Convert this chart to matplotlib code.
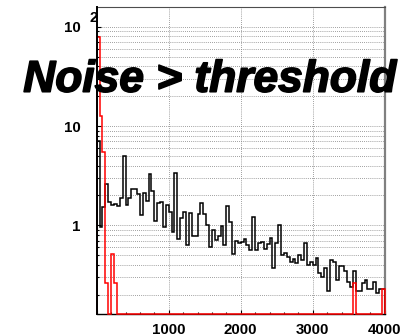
"""Noise histogram: all hits vs hits above threshold (log scale)."""

import numpy as np
import matplotlib.pyplot as plt
import matplotlib.patheffects as pe
from matplotlib.ticker import LogLocator, NullFormatter

plt.rcParams["font.family"] = ["Liberation Sans", "DejaVu Sans"]

# 100 bins of 40 from 0 to 4000
edges = np.arange(0, 4001, 40)

black_counts = [
    7.0, 0.97, 1.52, 2.6, 1.7, 1.6, 1.65, 1.55, 1.9, 5.0,
    1.6, 1.9, 2.3, 2.3, 2.07, 1.27, 2.1, 1.77, 3.27, 2.23,
    1.1, 1.68, 1.7, 0.97, 1.6, 1.37, 0.85, 3.35, 0.73, 1.19,
    1.35, 0.63, 1.33, 0.79, 0.79, 1.3, 1.68, 1.3, 1.0, 0.6,
    0.9, 0.71, 0.79, 0.98, 0.63, 1.55, 1.07, 0.52, 0.69, 0.67,
    0.68, 0.73, 0.63, 0.56, 1.22, 0.56, 0.66, 0.68, 0.58, 0.65,
    0.74, 0.37, 0.66, 1.0, 0.5, 0.53, 0.48, 0.43, 0.46, 0.42,
    0.5, 0.45, 0.67, 0.4, 0.43, 0.4, 0.47, 0.33, 0.3, 0.37,
    0.22, 0.45, 0.43, 0.28, 0.39, 0.39, 0.35, 0.27, 0.24, 0.35,
    0.22, 0.22, 0.26, 0.28, 0.23, 0.23, 0.27, 0.21, 0.23, 0.23,
]
red_counts = [79, 12.6, 5.5, 0.26, 0, 0.52, 0.26] + [0] * 82 + [0.26] + [0] * 9 + [0.23]

y_min, y_max = 0.128, 157

fig = plt.figure(figsize=(4.2, 3.36), dpi=100)
ax = fig.add_axes([96.7 / 420, 1 - 314 / 336, 288 / 420, 306.7 / 336])
ax.set_yscale("log")
ax.set_xlim(0, 4000)
ax.set_ylim(y_min, y_max)

# empty bins sit on the bottom of the frame, like ROOT does
red_plot = np.where(np.array(red_counts) > 0, red_counts, y_min)
ax.stairs(black_counts, edges, baseline=y_min, color="black", lw=1.1, zorder=3)
ax.stairs(red_plot, edges, baseline=y_min, color="red", lw=1.1, zorder=4, clip_on=False)

# ticks
ax.set_xticks([0, 1000, 2000, 3000, 4000])
ax.set_xticklabels(["", "1000", "2000", "3000", "4000"], fontweight="bold")
ax.set_xticks(np.arange(0, 4001, 200), minor=True)
ax.set_yticks([1, 10, 100])
ax.set_yticklabels(["1", "10", "10"], fontweight="bold")
ax.yaxis.set_minor_locator(LogLocator(base=10, subs=range(2, 10)))
ax.yaxis.set_minor_formatter(NullFormatter())
ax.tick_params(which="both", direction="in", width=0.8, labelsize=10.8)
ax.tick_params(which="major", length=3.2)
ax.tick_params(which="minor", length=1.6)
ax.tick_params(axis="x", pad=6.3)
ax.tick_params(axis="y", pad=11.5)
ax.annotate("2", xy=(0, 100), xycoords=("axes fraction", "data"), xytext=(-5.3, 6.3),
            textcoords="offset points", ha="left", va="center", fontsize=10.8,
            fontweight="bold", annotation_clip=False)

# dotted grid
grid_kw = dict(color="0.5", lw=0.6, linestyle=(0, (1, 1.5)))
ax.grid(True, which="major", axis="x", **grid_kw)
ax.grid(True, which="both", axis="y", **grid_kw)
ax.set_axisbelow(True)

ax.spines["left"].set_linewidth(1.4)
ax.spines["left"].set_zorder(5)
ax.spines["bottom"].set_linewidth(1.0)
ax.spines["top"].set_color("0.3")
ax.spines["top"].set_linewidth(0.8)
ax.spines["right"].set_color("0.5")
ax.spines["right"].set_linewidth(1.6)

fig.text(23.3 / 420, 1 - 91.7 / 336, "Noise > threshold", fontsize=31.9,
         fontweight="bold", fontstyle="italic", ha="left", va="baseline", zorder=10,
         path_effects=[pe.withStroke(linewidth=1.2, foreground="black",
                                     joinstyle="round", capstyle="round")])

plt.savefig("out.png", dpi=100)
